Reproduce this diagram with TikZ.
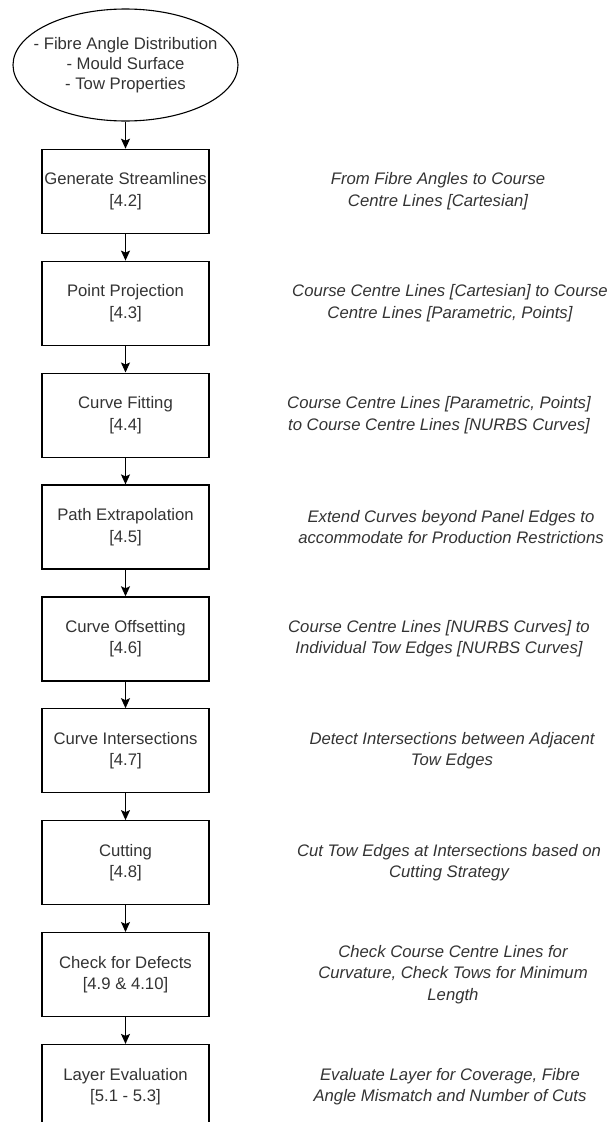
\documentclass[tikz,border=0pt]{standalone}
\usepackage{fontspec}
\setmainfont{Liberation Sans}
\usetikzlibrary{shapes.geometric,arrows.meta}
\definecolor{txt}{HTML}{333333}
\tikzset{
  stepbox/.style={draw=black, line width=1.2pt, rectangle, minimum width=167pt, minimum height=84pt, inner sep=0pt, align=center, text=txt, font=\fontsize{16.7}{21.5}\selectfont},
  startnode/.style={draw=black, line width=1.1pt, ellipse, minimum width=225pt, minimum height=112pt, inner sep=0pt},
  starttext/.style={align=center, inner sep=0pt, text=txt, font=\fontsize{16.7}{20}\selectfont},
  note/.style={align=center, inner sep=0pt, text=txt, font=\fontsize{16.7}{21.5}\selectfont\itshape},
  arr/.style={line width=1.2pt, -{Stealth[width=9pt,length=10pt,inset=2pt]}}
}
\begin{document}
\begin{tikzpicture}[x=1pt,y=-1pt]
\useasboundingbox (0,0) rectangle (611,1122);
\clip (0,0) rectangle (611,1122);
\node[startnode] (e) at (125.5,65) {};
\node[starttext] (etext) at (e.center) {- Fibre Angle Distribution\\- Mould Surface\\- Tow Properties};
\node[stepbox] (b1) at (125.5,191.3) {Generate Streamlines\\{[}4.2{]}};
\node[stepbox] (b2) at (125.5,303.2) {Point Projection\\{[}4.3{]}};
\node[stepbox] (b3) at (125.5,415.1) {Curve Fitting\\{[}4.4{]}};
\node[stepbox] (b4) at (125.5,527.0) {Path Extrapolation\\{[}4.5{]}};
\node[stepbox] (b5) at (125.5,638.9) {Curve Offsetting\\{[}4.6{]}};
\node[stepbox] (b6) at (125.5,750.8) {Curve Intersections\\{[}4.7{]}};
\node[stepbox] (b7) at (125.5,862.7) {Cutting\\{[}4.8{]}};
\node[stepbox] (b8) at (125.5,974.6) {Check for Defects\\{[}4.9 \& 4.10{]}};
\node[stepbox] (b9) at (125.5,1086.5) {Layer Evaluation\\{[}5.1 - 5.3{]}};
\draw[arr] (e) -- (b1);
\draw[arr] (b1) -- (b2);
\draw[arr] (b2) -- (b3);
\draw[arr] (b3) -- (b4);
\draw[arr] (b4) -- (b5);
\draw[arr] (b5) -- (b6);
\draw[arr] (b6) -- (b7);
\draw[arr] (b7) -- (b8);
\draw[arr] (b8) -- (b9);
\node[note] (t1) at (438,191.3) {From Fibre Angles to Course\\Centre Lines {[}Cartesian{]}};
\node[note] (t2) at (450,303.2) {Course Centre Lines {[}Cartesian{]} to Course\\Centre Lines {[}Parametric, Points{]}};
\node[note] (t3) at (439,415.1) {Course Centre Lines {[}Parametric, Points{]}\\to Course Centre Lines {[}NURBS Curves{]}};
\node[note] (t4) at (451,527.0) {Extend Curves beyond Panel Edges to\\accommodate for Production Restrictions};
\node[note] (t5) at (439,638.9) {Course Centre Lines {[}NURBS Curves{]} to\\Individual Tow Edges {[}NURBS Curves{]}};
\node[note] (t6) at (452,750.8) {Detect Intersections between Adjacent\\Tow Edges};
\node[note] (t7) at (449,862.7) {Cut Tow Edges at Intersections based on\\Cutting Strategy};
\node[note] (t8) at (453,974.6) {Check Course Centre Lines for\\Curvature, Check Tows for Minimum\\Length};
\node[note] (t9) at (450,1086.5) {Evaluate Layer for Coverage, Fibre\\Angle Mismatch and Number of Cuts};
\end{tikzpicture}
\end{document}
